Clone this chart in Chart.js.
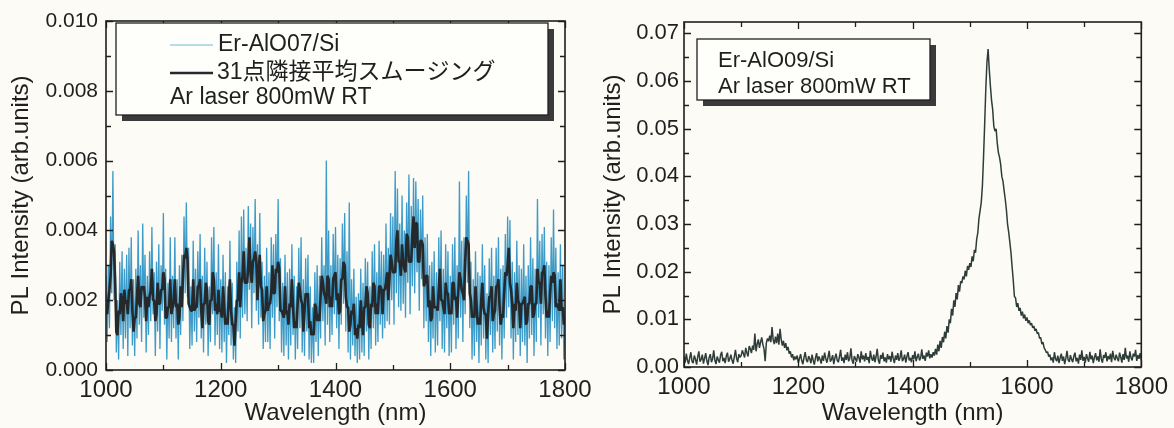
<!DOCTYPE html>
<html>
<head>
<meta charset="utf-8">
<script src="https://cdn.jsdelivr.net/npm/chart.js@4.4.1/dist/chart.umd.min.js"></script>
<style>
  body { margin: 0; background: #fcfbf5; }
  #wrap { position: relative; width: 1174px; height: 428px; }
  #wrap canvas { position: absolute; left: 0; top: 0; }
</style>
</head>
<body>
<div id="wrap">
  <canvas id="alo07" width="1174" height="428"></canvas>
  <canvas id="alo09" width="1174" height="428"></canvas>
</div>
<script>
// wavelength grid of both spectra (nm)
const WL_START = 1000;
const WL_STEP = 2;

// PL intensity, stored in units of 1e-4 arb.units
// Er-AlO07/Si raw spectrum
const rawAlO07 = [
  27,8,30,12,44,22,57,20,36,5,20,3,31,10,34,6,29,9,33,4,
  35,12,38,7,26,4,29,9,40,13,30,8,42,15,33,5,27,10,34,14,
  41,16,28,4,31,11,36,6,30,17,45,13,29,3,25,9,38,8,27,12,
  38,9,26,3,30,10,33,14,44,22,48,21,35,6,24,7,37,11,29,8,
  34,15,39,9,27,5,35,13,31,4,24,8,38,16,41,7,28,10,36,6,
  26,5,33,8,28,2,24,10,37,7,25,3,18,2,31,11,40,9,44,15,
  46,16,35,14,47,23,42,12,41,22,49,17,36,13,45,15,31,6,27,8,
  35,8,28,6,38,15,36,9,39,18,49,14,32,5,25,4,33,7,28,3,
  29,7,36,10,27,3,24,6,35,12,38,5,26,4,32,11,33,3,24,2,
  18,2,28,8,30,4,27,9,38,14,30,7,60,13,40,8,30,10,39,16,
  41,12,33,6,32,13,42,19,45,11,34,5,48,3,26,7,29,4,21,2,
  22,3,29,5,25,4,32,11,31,3,24,6,34,12,36,7,28,8,37,13,
  34,9,33,12,42,14,35,13,45,20,44,13,57,22,52,18,42,17,50,19,
  40,15,48,25,56,16,47,24,55,22,54,28,49,17,46,26,50,12,38,14,
  39,8,30,4,31,9,34,5,28,7,38,14,40,6,29,5,36,12,34,4,
  27,5,36,13,38,6,30,9,54,15,37,8,38,16,50,25,57,12,31,3,
  26,4,34,8,28,2,27,7,36,9,30,3,22,2,32,10,35,5,27,6,
  35,11,38,7,29,3,30,9,39,15,44,18,43,9,31,3,28,8,37,10,
  30,4,29,8,36,7,27,2,30,9,38,10,32,4,29,8,49,15,37,7,
  39,16,41,9,31,4,30,8,38,14,46,12,35,6,28,7,36,9,30,3,
  18
];
// 31-point adjacent-average smoothing of the same spectrum
const smoothAlO07 = [
  17,16,20,23,27,37,36,34,25,11,10,17,16,22,20,14,23,19,20,16,
  23,23,26,17,11,15,15,21,27,19,18,24,23,24,21,14,21,18,21,23,
  29,20,20,14,16,25,19,19,23,23,28,26,15,15,18,18,26,16,18,20,
  26,18,19,13,15,24,18,26,33,32,35,32,19,18,17,17,26,17,18,18,
  24,24,26,17,12,19,19,25,23,14,13,20,20,28,26,17,19,16,23,17,
  17,15,24,18,13,15,13,21,26,17,13,13,7,14,20,20,28,18,25,27,
  34,25,25,25,30,38,28,25,31,32,34,31,20,28,33,24,23,14,16,17,
  24,17,19,19,22,30,22,22,29,28,31,29,17,17,16,15,24,16,17,13,
  19,18,26,18,12,14,12,19,25,23,20,19,11,17,22,21,22,12,14,10,
  11,10,19,18,14,16,14,21,27,25,22,21,19,27,26,18,21,18,26,27,
  28,20,22,16,17,26,26,31,30,21,18,18,11,13,17,16,19,10,12,9,
  13,12,20,14,10,18,18,24,22,13,12,19,18,25,24,16,19,16,24,24,
  23,16,23,23,25,28,20,26,33,31,28,28,28,37,40,31,31,27,36,31,
  29,28,39,38,31,31,31,39,44,35,42,42,31,31,37,37,36,24,25,27,
  27,18,20,14,15,24,18,18,18,17,23,29,20,20,18,16,25,22,22,16,
  17,16,25,25,20,21,15,22,28,26,23,22,20,31,38,37,36,22,20,15,
  16,15,24,18,13,15,13,20,25,18,16,16,9,16,21,21,24,14,16,17,
  24,24,26,18,13,16,15,22,28,27,30,35,25,23,19,12,19,17,25,20,
  19,12,19,19,20,21,13,14,19,19,24,24,15,16,19,19,29,25,25,19,
  28,28,30,21,15,17,15,22,27,25,28,27,18,19,18,17,26,17,18,13,
  15
];
// Er-AlO09/Si spectrum
const plAlO09 = [
  22,9,28,14,6,19,31,12,8,24,17,5,21,33,11,16,26,7,18,29,
  13,4,20,27,10,17,35,14,6,22,15,9,25,32,12,19,8,23,30,11,
  17,26,14,7,21,36,18,10,27,20,24,35,28,20,40,30,22,44,38,29,
  45,36,70,33,48,58,40,52,62,47,38,12,50,60,54,66,52,84,57,48,
  64,50,70,47,80,58,45,55,40,50,35,42,28,33,20,27,14,22,16,24,
  9,18,27,13,6,20,31,15,10,23,17,8,26,14,5,19,29,12,22,16,
  7,24,13,30,18,9,21,34,11,16,25,6,19,28,14,10,22,36,13,20,
  8,26,15,31,12,18,39,14,7,23,17,11,27,20,9,33,16,24,12,29,
  15,21,8,34,19,13,26,10,22,38,14,7,25,17,30,12,20,9,27,16,
  23,11,32,18,8,24,15,29,13,20,35,12,17,26,9,22,31,14,19,10,
  25,16,33,12,21,28,14,19,37,17,24,13,30,22,35,18,27,20,31,24,
  38,26,47,33,55,40,63,52,74,60,86,72,100,92,122,108,140,126,155,142,
  172,158,180,176,190,184,202,190,212,204,218,210,232,222,246,240,268,282,312,328,
  345,380,440,510,585,640,667,625,590,560,540,505,495,500,470,450,440,425,400,390,
  370,352,330,300,283,262,240,210,182,148,145,126,134,118,124,108,116,102,110,97,
  104,92,98,88,92,82,86,76,80,70,72,60,62,48,52,40,36,30,32,22,
  26,14,20,9,31,17,12,24,8,19,28,13,22,6,18,34,15,11,25,16,
  10,23,30,12,19,7,26,15,35,13,21,9,27,18,11,32,16,24,8,20,
  29,14,22,11,37,17,9,25,19,31,12,23,16,28,10,34,20,14,26,18,
  12,30,21,9,27,15,40,18,24,11,33,19,14,28,22,36,13,25,17,29,
  15
];

// axis ticks
const xLabelTicks = [1000, 1200, 1400, 1600, 1800];
const xMinorTicks = [1100, 1300, 1500, 1700];
const yLabelTicks07 = [0, 0.002, 0.004, 0.006, 0.008, 0.010];
const yMinorTicks07 = [0.001, 0.003, 0.005, 0.007, 0.009];
const yLabelTicks09 = [0, 0.01, 0.02, 0.03, 0.04, 0.05, 0.06, 0.07];
const yMinorTicks09 = [0.005, 0.015, 0.025, 0.035, 0.045, 0.055, 0.065];

const INK = '#1f1f1f';
const SANS = '"Liberation Sans", Arial, "Noto Sans CJK JP", sans-serif';

const toPoints = vals => vals.map((v, i) => ({ x: WL_START + i * WL_STEP, y: v * 1e-4 }));

// closed frame with inward ticks on all four sides
function framePlugin(xMajor, xMinor, yMajor, yMinor) {
  return {
    id: 'frame',
    afterDatasetsDraw(chart) {
      const { ctx, chartArea: a } = chart;
      const xs = chart.scales.x, ys = chart.scales.y;
      ctx.save();
      ctx.strokeStyle = INK;
      ctx.lineWidth = 1.3;
      ctx.beginPath();
      const xMark = (vals, len) => vals.forEach(v => {
        const px = Math.round(xs.getPixelForValue(v)) + 0.5;
        ctx.moveTo(px, a.bottom); ctx.lineTo(px, a.bottom - len);
        ctx.moveTo(px, a.top); ctx.lineTo(px, a.top + len);
      });
      const yMark = (vals, len) => vals.forEach(v => {
        const py = Math.round(ys.getPixelForValue(v)) + 0.5;
        ctx.moveTo(a.left, py); ctx.lineTo(a.left + len, py);
        ctx.moveTo(a.right, py); ctx.lineTo(a.right - len, py);
      });
      xMark(xMajor, 7); xMark(xMinor, 5);
      yMark(yMajor, 7); yMark(yMinor, 5);
      ctx.stroke();
      ctx.lineWidth = 1.6;
      ctx.strokeRect(a.left, a.top, a.right - a.left, a.bottom - a.top);
      ctx.restore();
    }
  };
}

// framed note box with drop shadow
function notePlugin(box, rows) {
  return {
    id: 'note',
    afterDraw(chart) {
      const ctx = chart.ctx;
      ctx.save();
      ctx.fillStyle = '#3a3a3a';
      ctx.fillRect(box.x + box.shadow, box.y + box.shadow, box.w, box.h);
      ctx.fillStyle = '#fefefb';
      ctx.fillRect(box.x, box.y, box.w, box.h);
      ctx.strokeStyle = INK;
      ctx.lineWidth = 1.3;
      ctx.strokeRect(box.x, box.y, box.w, box.h);
      ctx.font = box.font;
      ctx.textBaseline = 'middle';
      rows.forEach(r => {
        if (r.line) {
          ctx.strokeStyle = r.line;
          ctx.lineWidth = r.width;
          ctx.beginPath();
          ctx.moveTo(r.x0, r.y); ctx.lineTo(r.x1, r.y);
          ctx.stroke();
        }
        ctx.fillStyle = INK;
        ctx.fillText(r.text, r.tx, r.y);
      });
      ctx.restore();
    }
  };
}

function axes(o) {
  return {
    x: {
      type: 'linear', min: 1000, max: 1800,
      afterBuildTicks: s => { s.ticks = xLabelTicks.map(v => ({ value: v })); },
      afterFit: s => { s.height = o.xHeight; },
      grid: { display: false, drawTicks: false },
      border: { display: false },
      ticks: { padding: 6, autoSkip: false, maxRotation: 0, color: INK,
               font: { family: SANS, size: 24 }, callback: v => String(v) },
      title: { display: true, text: 'Wavelength (nm)', color: INK, padding: { top: 0, bottom: 0 },
               font: { family: SANS, size: 24 } }
    },
    y: {
      min: 0, max: o.yMax,
      afterBuildTicks: s => { s.ticks = o.yTicks.map(v => ({ value: v })); },
      afterFit: s => { s.width = o.yWidth; },
      grid: { display: false, drawTicks: false },
      border: { display: false },
      ticks: { padding: o.yPad, color: INK, font: { family: SANS, size: o.yFont },
               callback: v => v.toFixed(o.digits) },
      title: { display: true, text: 'PL Intensity (arb.units)', color: INK,
               padding: { top: o.titlePad, bottom: 0 }, font: { family: SANS, size: 24 } }
    }
  };
}

new Chart(document.getElementById('alo07'), {
  type: 'line',
  data: {
    datasets: [
      // smoothed trace sits on top of the raw one
      { label: '31点隣接平均スムージング', data: toPoints(smoothAlO07), borderColor: '#25292c',
        borderWidth: 2.6, pointRadius: 0, borderJoinStyle: 'bevel', order: 1 },
      { label: 'Er-AlO07/Si', data: toPoints(rawAlO07), borderColor: 'rgba(26,138,192,0.85)',
        borderWidth: 1.3, pointRadius: 0, borderJoinStyle: 'bevel', order: 2 }
    ]
  },
  options: {
    responsive: false,
    animation: false,
    layout: { padding: { left: 0, top: 21, right: 609, bottom: 0 } },
    plugins: { legend: { display: false }, tooltip: { enabled: false } },
    scales: axes({ xHeight: 58, yMax: 0.010, yTicks: yLabelTicks07, yWidth: 106, yPad: 8,
                   yFont: 21, digits: 3, titlePad: 7 })
  },
  plugins: [
    framePlugin(xLabelTicks, xMinorTicks, yLabelTicks07, yMinorTicks07),
    notePlugin({ x: 116, y: 23, w: 432, h: 92, shadow: 6, font: '23px ' + SANS }, [
      { text: 'Er-AlO07/Si', tx: 218, y: 45, line: 'rgba(26,138,192,0.6)', width: 1.2, x0: 170, x1: 213 },
      { text: '31点隣接平均スムージング', tx: 217, y: 73, line: '#25292c', width: 2.6, x0: 170, x1: 213 },
      { text: 'Ar laser 800mW RT', tx: 170, y: 98 }
    ])
  ]
});

new Chart(document.getElementById('alo09'), {
  type: 'line',
  data: {
    datasets: [
      { label: 'Er-AlO09/Si', data: toPoints(plAlO09), borderColor: '#2f3d3a',
        borderWidth: 1.5, pointRadius: 0, borderJoinStyle: 'bevel' }
    ]
  },
  options: {
    responsive: false,
    animation: false,
    layout: { padding: { left: 587, top: 22, right: 31, bottom: 0 } },
    plugins: { legend: { display: false }, tooltip: { enabled: false } },
    scales: axes({ xHeight: 61, yMax: 0.0724, yTicks: yLabelTicks09, yWidth: 97, yPad: 5,
                   yFont: 22, digits: 2, titlePad: 12 })
  },
  plugins: [
    framePlugin(xLabelTicks, xMinorTicks, yLabelTicks09, yMinorTicks09),
    notePlugin({ x: 697, y: 39, w: 233, h: 61, shadow: 6, font: '22px ' + SANS }, [
      { text: 'Er-AlO09/Si', tx: 718, y: 61 },
      { text: 'Ar laser 800mW RT', tx: 718, y: 87 }
    ])
  ]
});
</script>
</body>
</html>
